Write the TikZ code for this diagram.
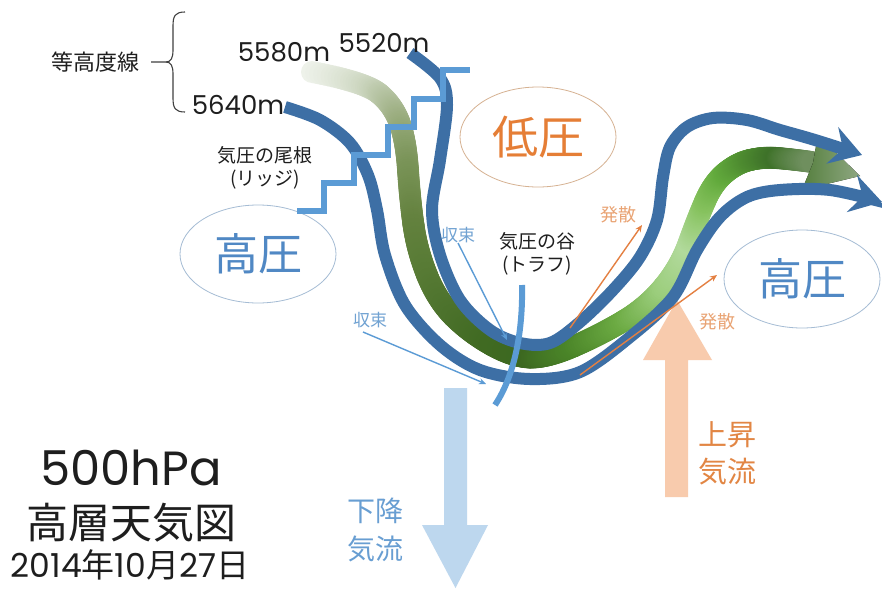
\documentclass[tikz,border=0pt]{standalone}
\usepackage{fontspec}
\setmainfont{Poppins}
\newfontfamily\jp{Noto Sans CJK JP}
\usetikzlibrary{arrows.meta,shapes.geometric}

\definecolor{lineblue}{RGB}{61,111,165}
\definecolor{ridgeblue}{RGB}{91,155,213}
\definecolor{hightext}{RGB}{80,136,196}
\definecolor{ellblue}{RGB}{165,188,212}
\definecolor{lowtext}{RGB}{229,126,54}
\definecolor{ellorange}{RGB}{214,178,146}
\definecolor{divtext}{RGB}{233,163,115}
\definecolor{divarrow}{RGB}{228,128,66}
\definecolor{convtext}{RGB}{112,162,210}
\definecolor{downfill}{RGB}{189,215,238}
\definecolor{upfill}{RGB}{248,203,173}
\definecolor{downtext}{RGB}{104,158,210}
\definecolor{uptext}{RGB}{226,134,68}
\definecolor{inkdark}{RGB}{30,30,30}
% colours at the joints of the 5580m band
\definecolor{b0}{HTML}{EEF2EA}
\definecolor{b1}{HTML}{C0CCB0}
\definecolor{b2}{HTML}{9DAF82}
\definecolor{b3}{HTML}{7A9458}
\definecolor{b4}{HTML}{64823F}
\definecolor{b5}{HTML}{587B35}
\definecolor{b6}{HTML}{4C722C}
\definecolor{b7}{HTML}{406A22}
\definecolor{b8}{HTML}{3C6820}
\definecolor{b9}{HTML}{4A8428}
\definecolor{b10}{HTML}{6BAA42}
\definecolor{b11}{HTML}{9BCD7C}
\definecolor{b12}{HTML}{B2DA9C}
\definecolor{b13}{HTML}{86C25E}
\definecolor{b14}{HTML}{62AA3C}
\definecolor{b15}{HTML}{4E8C30}
\definecolor{b16}{HTML}{3E7229}
\definecolor{b17}{HTML}{6F8F5E}
\definecolor{headL}{HTML}{557F3E}
\definecolor{headR}{HTML}{8FA882}

\begin{document}
\begin{tikzpicture}[x=1pt,y=-1pt,
  contour/.style={draw=lineblue,line width=12pt,-{Stealth[length=31pt,width=38pt,inset=11pt]}},
  ridgeline/.style={draw=ridgeblue,line width=6.5pt,line join=miter},
  convarrow/.style={draw=ridgeblue,line width=1.4pt,-{Stealth[length=7pt,width=6pt]}},
  divarrowst/.style={draw=divarrow,line width=1.4pt,-{Stealth[length=7pt,width=6pt]}},
  heightlabel/.style={font=\fontsize{26}{26}\selectfont,text=inkdark,inner sep=0pt},
  jplabel/.style={font=\jp\fontsize{19}{23}\selectfont,text=inkdark,align=center,inner sep=0pt},
  convlabel/.style={font=\jp\fontsize{17}{17}\selectfont,text=convtext,inner sep=0pt},
  divlabel/.style={font=\jp\fontsize{18}{18}\selectfont,text=divtext,inner sep=0pt},
  highcell/.style={ellipse,draw=ellblue,line width=0.8pt,minimum width=156pt,minimum height=98pt,inner sep=0pt,text=hightext,font=\jp\fontsize{44}{44}\selectfont},
  lowcell/.style={ellipse,draw=ellorange,line width=0.8pt,minimum width=156pt,minimum height=100pt,inner sep=0pt,text=lowtext,font=\jp\fontsize{46}{46}\selectfont},
  flowlabel/.style={font=\jp\fontsize{28}{38}\selectfont,align=center,inner sep=0pt}
]
\fill[white] (0,0) rectangle (882,589);
\useasboundingbox (0,0) rectangle (882,589);

% pressure cells
\node[lowcell] (lowP) at (538,137) {低圧};
\node[highcell] (highW) at (258,254) {高圧};
\node[highcell] (highE) at (802,279) {高圧};

% vertical motion
\fill[upfill] (665,497) -- (688,497) -- (688,360) -- (712,360) -- (677,300) -- (643,360) -- (665,360) -- cycle;
\fill[downfill] (444,388) -- (467,388) -- (467,525) -- (488,525) -- (455.5,588) -- (422,525) -- (444,525) -- cycle;

% 5580m contour: a wide band built from dots along quadratic pieces,
% each piece blending from its start colour to its end colour
\foreach \sx/\sy/\cx/\cy/\ex/\ey/\ca/\cb in {
  312/72/365/82/379/93.5/b0/b1,
  379/93.5/393/105/399.5/122.5/b1/b2,
  399.5/122.5/406/140/408/170/b2/b3,
  408/170/410/200/413.5/225/b3/b4,
  413.5/225/417/250/427/275/b4/b5,
  427/275/437/300/453.5/316.5/b5/b6,
  453.5/316.5/470/333/491.5/345/b6/b7,
  491.5/345/513/357/530/357.5/b7/b8,
  530/357.5/547/358/573.5/346.5/b8/b9,
  573.5/346.5/600/335/623.5/321/b9/b10,
  623.5/321/647/307/663.5/287/b10/b11,
  663.5/287/680/267/688.5/243.5/b11/b12,
  688.5/243.5/697/220/705/201.5/b12/b13,
  705/201.5/713/183/725/173/b13/b14,
  725/173/737/163/750/160/b14/b15,
  750/160/763/157/776.5/158/b15/b16,
  776.5/158/790/159/812/162/b16/b17}{
  \foreach \t in {0,0.04,...,1.001}{
    \pgfmathsetmacro\bx{(1-\t)*(1-\t)*\sx+2*(1-\t)*\t*\cx+\t*\t*\ex}
    \pgfmathsetmacro\by{(1-\t)*(1-\t)*\sy+2*(1-\t)*\t*\cy+\t*\t*\ey}
    \pgfmathsetmacro\mixpct{min(100,max(0,\t*100))}
    \fill[fill=\cb!\mixpct!\ca] (\bx,\by) circle (11pt);
  }
}
\fill[left color=headL,right color=headR] (818,135) -- (860,176) -- (802,190) -- (813,163) -- cycle;

% 5640m and 5520m contours
\draw[contour] plot[smooth,tension=0.55] coordinates {(285,107) (320,120) (350,143) (368,175) (377,210) (385,255) (405,305) (440,345) (480,370) (530,379) (580,372) (630,337) (673,297) (697,250) (720,217) (747,197) (780,190) (830,190) (882,202)};
\draw[contour] plot[smooth,tension=0.55] coordinates {(410,53) (440,78) (447,105) (440,160) (432,210) (440,255) (460,300) (490,330) (520,343) (550,343) (580,322) (613,290) (640,257) (657,220) (663,177) (670,147) (687,127) (713,118) (747,120) (780,130) (815,140) (862,155)};

% ridge and trough axes
\draw[ridgeline] (297,211) -| (324,183) -| (354,155) -| (388,127) -| (414,99) -| (443,70) -- (470,70);
\draw[draw=ridgeblue,line width=6pt] (522,285) .. controls (523,330) and (515,375) .. (495,405);

% labels
\node[heightlabel] (h5580) at (284,52) {5580m};
\node[heightlabel] (h5520) at (384,43) {5520m};
\node[heightlabel] (h5640) at (238,105) {5640m};
\node[jplabel,font=\jp\fontsize{22}{22}\selectfont] (contourtag) at (95,62) {等高度線};
\draw[draw=inkdark!85,line width=1.1pt] (185,12) .. controls (175,12) and (173,16) .. (173,26) -- (173,50) .. controls (173,58) and (171,62) .. (166,62) -- (151,62);
\draw[draw=inkdark!85,line width=1.1pt] (166,62) .. controls (171,62) and (173,66) .. (173,74) -- (173,98) .. controls (173,108) and (175,112) .. (185,112);
\node[jplabel] (ridgetag) at (265,168) {気圧の尾根\\(リッジ)};
\node[jplabel] (troughtag) at (537,254) {気圧の谷\\(トラフ)};

\node[convlabel] (convA) at (458,235) {収束};
\node[convlabel] (convB) at (370,320) {収束};
\coordinate (convAend) at (507,340);
\coordinate (convBstart) at (363,332);
\coordinate (convBend) at (486,384);
\draw[convarrow] (convA.south) -- (convAend);
\draw[convarrow] (convBstart) -- (convBend);

\node[divlabel] (divA) at (618,215) {発散};
\node[divlabel] (divB) at (717,322) {発散};
\coordinate (divAstart) at (570,328);
\coordinate (divAend) at (642,225);
\coordinate (divBstart) at (580,375);
\coordinate (divBend) at (717,275);
\draw[divarrowst] (divAstart) -- (divAend);
\draw[divarrowst] (divBstart) -- (divBend);

\node[flowlabel,text=downtext] (sinkTag) at (375,530) {下降\\気流};
\node[flowlabel,text=uptext,font=\jp\fontsize{29}{37}\selectfont] (riseTag) at (727,453) {上昇\\気流};

\node[text=inkdark,font=\fontsize{48}{48}\selectfont,inner sep=0pt] (title) at (131,468) {500hPa};
\node[text=inkdark,font=\jp\fontsize{42}{42}\selectfont,inner sep=0pt] (subtitle) at (131,523) {高層天気図};
\node[text=inkdark,font=\fontsize{33}{33}\selectfont,inner sep=0pt] (datetag) at (130,565) {2014{\jp 年}10{\jp 月}27{\jp 日}};
\end{tikzpicture}
\end{document}
